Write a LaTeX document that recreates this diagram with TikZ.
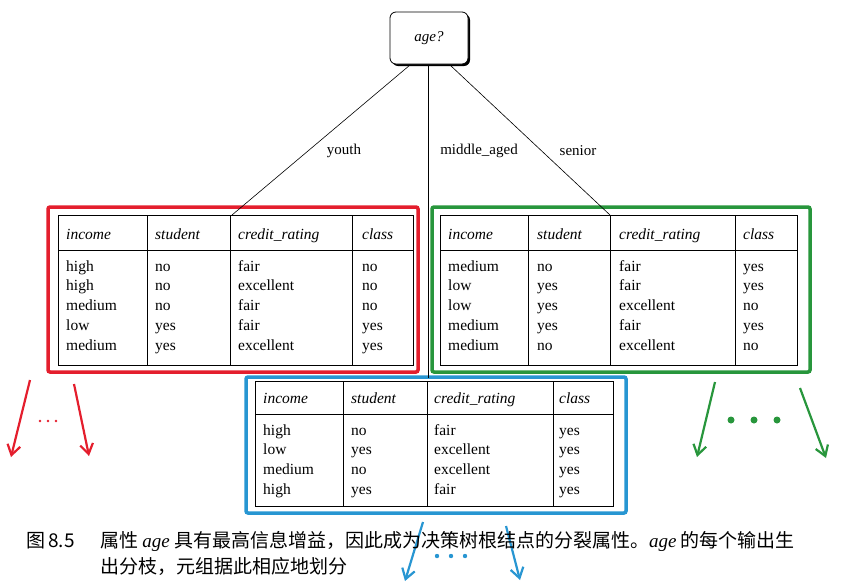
\documentclass[tikz,border=0pt]{standalone}
\usepackage{fontspec}
\setmainfont{Liberation Serif}
\newfontfamily\cjk{Noto Sans CJK SC}
\usetikzlibrary{shadows,arrows.meta}
\definecolor{myred}{RGB}{228,30,45}
\definecolor{mygreen}{RGB}{40,150,60}
\definecolor{myblue}{RGB}{40,150,210}
\tikzset{
  cell/.style={anchor=base west,inner sep=0pt,font=\fontsize{15.5}{18}\selectfont},
  head/.style={anchor=base west,inner sep=0pt,font=\fontsize{15.5}{18}\selectfont\itshape},
  frame/.style={line width=3.5pt,rounded corners=2pt},
  arr/.style={line width=2.2pt,-{Straight Barb[length=10pt,width=13pt]}},
  edge/.style={line width=0.6pt},
  lbl/.style={font=\fontsize{15}{18}\selectfont,inner sep=1pt},
  captxt/.style={anchor=west,inner sep=0pt,font=\fontsize{19}{22}\selectfont}
}
\newcommand{\colcells}[4]{% prefix, x, ystart, list
  \foreach \t [count=\i] in {#4} \node[cell] (#1\i) at (#2,#3+19.8*\i-19.8) {\t};}
\begin{document}
\begin{tikzpicture}[x=1pt,y=-1pt]
\useasboundingbox (0,0) rectangle (865,587);
\node[draw,line width=0.8pt,rounded corners=6pt,minimum width=78pt,minimum height=52pt,fill=white,
  drop shadow={shadow xshift=2pt,shadow yshift=-2pt,opacity=1,fill=black},font=\fontsize{15}{18}\selectfont\itshape] (root) at (429,38) {age?};
\draw[frame,myred] (48,207) rectangle (418,372);
\draw[frame,mygreen] (432,207) rectangle (810,372);
\draw[frame,myblue] (246,377) rectangle (626,513);
% red table
\draw[line width=0.8pt] (58,215) rectangle (413,365);
\draw[line width=0.6pt] (58,250) -- (413,250);
\foreach \x in {147,230,352} \draw[line width=0.6pt] (\x,215) -- (\x,365);
\node[head] (rh1) at (66,239) {income};
\node[head] (rh2) at (155,239) {student};
\node[head] (rh3) at (238,239) {credit\_rating};
\node[head] (rh4) at (362,239) {class};
\colcells{rca}{66}{271}{high,high,medium,low,medium}
\colcells{rcb}{155}{271}{no,no,no,yes,yes}
\colcells{rcc}{238}{271}{fair,excellent,fair,fair,excellent}
\colcells{rcd}{362}{271}{no,no,no,yes,yes}
% green table
\draw[line width=0.8pt] (440,215) rectangle (797,365);
\draw[line width=0.6pt] (440,250) -- (797,250);
\foreach \x in {528,610,735} \draw[line width=0.6pt] (\x,215) -- (\x,365);
\node[head] (gh1) at (448,239) {income};
\node[head] (gh2) at (537,239) {student};
\node[head] (gh3) at (619,239) {credit\_rating};
\node[head] (gh4) at (743,239) {class};
\colcells{gca}{448}{271}{medium,low,low,medium,medium}
\colcells{gcb}{537}{271}{no,yes,yes,yes,no}
\colcells{gcc}{619}{271}{fair,fair,excellent,fair,excellent}
\colcells{gcd}{743}{271}{yes,yes,no,yes,no}
% blue table
\draw[line width=0.8pt] (255,381) rectangle (613,506);
\draw[line width=0.6pt] (255,414) -- (613,414);
\foreach \x in {343,427,553} \draw[line width=0.6pt] (\x,381) -- (\x,506);
\node[head] (bh1) at (263,403) {income};
\node[head] (bh2) at (351,403) {student};
\node[head] (bh3) at (434,403) {credit\_rating};
\node[head] (bh4) at (559,403) {class};
\colcells{bca}{263}{435}{high,low,medium,high}
\colcells{bcb}{351}{435}{no,yes,no,yes}
\colcells{bcc}{434}{435}{fair,excellent,excellent,fair}
\colcells{bcd}{559}{435}{yes,yes,yes,yes}
% edges
\coordinate (ty) at (232,215);
\coordinate (tm) at (428,378);
\coordinate (ts) at (610,215);
\draw[edge] (410,65) -- (ty);
\draw[edge] (428,65) -- (tm);
\draw[edge] (450,65) -- (ts);
\node[lbl] (ly) at (344,151) {youth};
\node[lbl] (lm) at (479,151) {middle\_aged};
\node[lbl] (ls) at (578,151) {senior};
% arrows
\coordinate (ra1) at (30,380); \coordinate (ra2) at (11,457);
\coordinate (ra3) at (74,384); \coordinate (ra4) at (89,456);
\draw[arr,myred] (ra1) -- (ra2);
\draw[arr,myred] (ra3) -- (ra4);
\foreach \x in {40,48,56} \fill[myred] (\x,421) circle (1.3pt);
\coordinate (ga1) at (715,382); \coordinate (ga2) at (697,457);
\coordinate (ga3) at (800,388); \coordinate (ga4) at (826,458);
\draw[arr,mygreen] (ga1) -- (ga2);
\draw[arr,mygreen] (ga3) -- (ga4);
\foreach \x in {731,754,777} \fill[mygreen] (\x,420) circle (3.5pt);
\coordinate (ba1) at (423,522); \coordinate (ba2) at (405,581);
\coordinate (ba3) at (506,526); \coordinate (ba4) at (520,580);
\draw[arr,myblue] (ba1) -- (ba2);
\draw[arr,myblue] (ba3) -- (ba4);
\foreach \x in {437,451,465} \fill[myblue] (\x,556) circle (2.2pt);
% caption
\node[captxt] (cap0) at (26,541) {\cjk 图\,8.5};
\node[captxt] (cap1) at (100,541) {\cjk 属性 {\rmfamily\itshape age} 具有最高信息增益，因此成为决策树根结点的分裂属性。{\rmfamily\itshape age} 的每个输出生};
\node[captxt] (cap2) at (100,566) {\cjk 出分枝，元组据此相应地划分};
\end{tikzpicture}
\end{document}
